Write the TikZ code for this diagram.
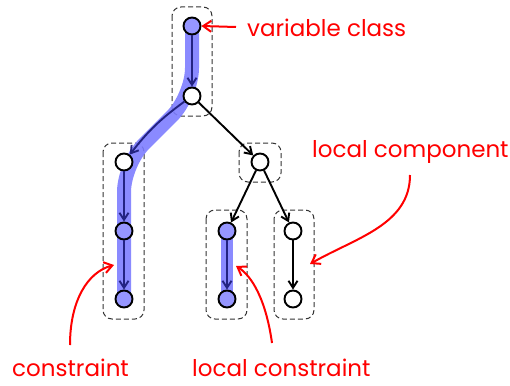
\documentclass[tikz,border=0pt]{standalone}
\usepackage{fontspec}
\setmainfont{Poppins}
\usetikzlibrary{arrows.meta}
\definecolor{vfill}{RGB}{150,150,255}
\definecolor{vpath}{RGB}{125,125,255}
\definecolor{vedge}{RGB}{35,35,130}
\tikzset{
  vert/.style={circle,draw,line width=1.9pt,minimum size=17pt,inner sep=0pt,fill=white},
  sel/.style={vert,fill=vfill},
  edge/.style={line width=1.9pt,-{Straight Barb[length=7pt,width=9pt,line width=1.9pt]}},
  hedge/.style={edge,draw=vedge},
  hl/.style={line width=14pt,draw=vpath,opacity=0.9,line cap=round},
  grp/.style={draw=black!80,dash pattern=on 5pt off 3pt,rounded corners=9pt,line width=1pt},
  lbl/.style={text=red,font=\fontsize{23}{27}\selectfont,inner sep=0pt},
  note/.style={draw=red,line width=2pt,-{Straight Barb[length=8pt,width=11pt,line width=2pt]}}
}
\begin{document}
\begin{tikzpicture}[x=1pt,y=-1pt]
\useasboundingbox (0,0) rectangle (510,385);
% grouping boxes
\draw[grp] (172,7) rectangle (212,116);
\draw[grp] (103,143) rectangle (144,319);
\draw[grp] (239,143) rectangle (281,182);
\draw[grp] (206,210) rectangle (247,319);
\draw[grp] (274,210) rectangle (314,319);
% highlighted paths
\draw[hl,rounded corners=28pt] (192,26) -- (192,96) -- (124,164) -- (124,299);
\draw[hl,line width=12pt] (227,231) -- (227,299);
% vertices
\node[sel] (a) at (192,26) {};
\node[vert] (b) at (192,96) {};
\node[vert] (c) at (124,162) {};
\node[sel] (d) at (124,231) {};
\node[sel] (e) at (124,299) {};
\node[vert] (f) at (260,162) {};
\node[sel] (g) at (227,231) {};
\node[sel] (h) at (227,299) {};
\node[vert] (i) at (293,231) {};
\node[vert] (j) at (293,299) {};
% edges
\draw[hedge] (a) -- (b);
\draw[hedge] (b) to[bend right=8] (c);
\draw[hedge] (c) -- (d);
\draw[hedge] (d) -- (e);
\draw[hedge] (g) -- (h);
\draw[edge] (b) -- (f);
\draw[edge] (f) -- (g);
\draw[edge] (f) -- (i);
\draw[edge] (i) -- (j);
% labels
\node[lbl,anchor=base west] (vc) at (247,37) {variable class};
\node[lbl,anchor=base west] (lcomp) at (312,157) {local component};
\node[lbl,anchor=base west] (cons) at (12,376) {constraint};
\node[lbl,anchor=base west] (lcons) at (192,376) {local constraint};
% callout ends
\coordinate (s0) at (236,27);
\coordinate (s1) at (410,175);
\coordinate (s2) at (70,345);
\coordinate (s3) at (272,343);
\coordinate (p1) at (310,264);
\coordinate (p2) at (114,265);
\coordinate (p3) at (236,266);
\draw[note] (s0) -- (a.east);
\draw[note] (s1) .. controls (410,225) and (355,238) .. (p1);
\draw[note] (s2) .. controls (70,300) and (88,272) .. (p2);
\draw[note] (s3) .. controls (266,300) and (252,276) .. (p3);
\end{tikzpicture}
\end{document}
